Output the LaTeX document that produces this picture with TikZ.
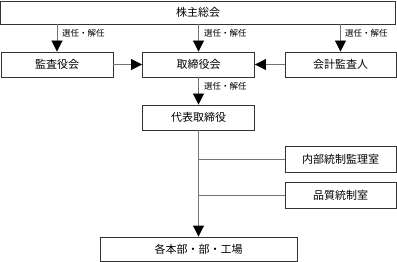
\documentclass[tikz,border=0pt]{standalone}
\usepackage{fontspec}
\setmainfont{Noto Sans CJK JP}
\usetikzlibrary{arrows.meta,positioning}
\tikzset{
  box/.style={draw=black!80, line width=0.9pt, fill=white, inner sep=0pt,
    font=\fontsize{11pt}{13pt}\selectfont},
  link/.style={draw=black!55, line width=0.9pt,
    -{Triangle[length=11pt,width=11pt,fill=black,color=black]}},
  plain/.style={draw=black!55, line width=0.9pt},
  appoint/.style={font=\fontsize{8.5pt}{10pt}\selectfont, anchor=west, inner sep=0pt},
}

\begin{document}
\begin{tikzpicture}[x=1pt, y=-1pt]
\useasboundingbox (0,0) rectangle (397,262);
% Shareholders meeting (full-width bar)
\node[box, minimum width=395pt, minimum height=23pt] (meeting) at (198,12.5) {株主総会};
% Second row
\node[box, minimum width=112pt, minimum height=25pt] (audit) at (57,64.5) {監査役会};
\node[box, minimum width=112pt, minimum height=25pt] (board) at (198.5,64.5) {取締役会};
\node[box, minimum width=111pt, minimum height=25pt] (accountant) at (340.5,64.5) {会計監査人};
% Representative director
\node[box, minimum width=112pt, minimum height=25pt] (ceo) at (198.5,117.5) {代表取締役};
% Staff offices on the right
\node[box, minimum width=111pt, minimum height=26pt] (internal) at (340.5,159) {内部統制監理室};
\node[box, minimum width=111pt, minimum height=26pt] (quality) at (340.5,195) {品質統制室};
% Divisions at the bottom
\node[box, minimum width=197pt, minimum height=24pt] (divisions) at (198.5,249) {各本部・部・工場};
% Appointment arrows
\draw[link] (meeting.south -| audit) -- (audit);
\draw[link] (meeting.south -| board) -- (board);
\draw[link] (meeting.south -| accountant) -- (accountant);
\draw[link] (board) -- (ceo);
\node[appoint] (appointA) at (62,33) {選任・解任};
\node[appoint] (appointB) at (204,33) {選任・解任};
\node[appoint] (appointC) at (345,33) {選任・解任};
\node[appoint] (appointD) at (204,86) {選任・解任};
% Reporting into the board
\draw[link] (audit) -- (board);
\draw[link] (accountant) -- (board);
% Trunk down to the divisions
\draw[link] (ceo) -- (divisions);
\draw[plain] (internal.west) -- (internal.west -| ceo.south);
\draw[plain] (quality.west) -- (quality.west -| ceo.south);
\end{tikzpicture}
\end{document}
